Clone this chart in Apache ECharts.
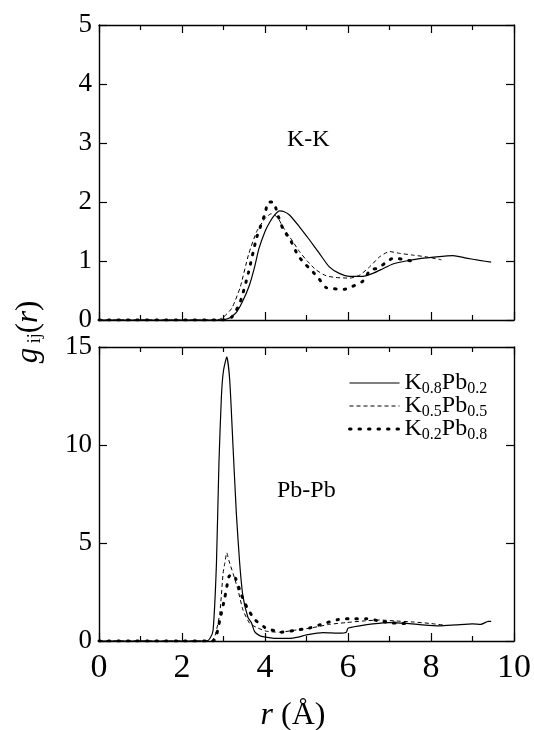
<!DOCTYPE html>
<html>
<head>
<meta charset="utf-8">
<script src="https://cdn.jsdelivr.net/npm/echarts@6/dist/echarts.min.js"></script>
<style>
  html, body { margin: 0; padding: 0; background: #fff; }
  #chart { width: 534px; height: 730px; }
  .preload { position: absolute; left: -1000px; top: 0; font-family: 'Liberation Serif'; }
</style>
</head>
<body>
<div id="chart"></div>
<span class="preload">K-Pb 0123</span><span class="preload" style="font-style: italic">g r</span>
<script>
// K-K panel, r (Å) and g(r) per composition
const kk08R = [0, 2.9, 3.1, 3.3, 3.45, 3.62, 3.75, 3.85, 4.0, 4.1, 4.22, 4.35, 4.45, 4.59, 4.83, 5.07, 5.31, 5.55, 5.79, 6.04, 6.36, 6.6, 6.84, 7.08, 7.4, 7.73, 8.13, 8.53, 8.85, 9.17, 9.45]
const kk08G = [0, 0, 0.02, 0.12, 0.3, 0.58, 0.9, 1.2, 1.5, 1.64, 1.77, 1.85, 1.84, 1.78, 1.58, 1.36, 1.13, 0.9, 0.79, 0.74, 0.74, 0.79, 0.87, 0.95, 1.0, 1.04, 1.07, 1.09, 1.05, 1.01, 0.98]
const kk05R = [0, 2.85, 3.0, 3.2, 3.4, 3.6, 3.8, 4.0, 4.15, 4.23, 4.32, 4.43, 4.67, 4.83, 5.03, 5.23, 5.47, 5.71, 6.04, 6.28, 6.52, 6.76, 7.0, 7.24, 7.56, 7.89, 8.25]
const kk05G = [0, 0, 0.05, 0.2, 0.55, 1.1, 1.5, 1.72, 1.8, 1.78, 1.72, 1.58, 1.33, 1.16, 0.99, 0.85, 0.75, 0.72, 0.71, 0.76, 0.9, 1.07, 1.16, 1.13, 1.1, 1.07, 1.02]
const kk02R = [0, 3.0, 3.2, 3.4, 3.6, 3.8, 4.0, 4.08, 4.2, 4.3, 4.43, 4.63, 4.79, 4.95, 5.11, 5.31, 5.47, 5.67, 5.91, 6.11, 6.36, 6.54, 6.74, 6.9, 7.1, 7.3, 7.55]
const kk02G = [0, 0, 0.05, 0.3, 0.8, 1.4, 1.8, 2.0, 2.0, 1.8, 1.55, 1.33, 1.1, 0.96, 0.85, 0.69, 0.55, 0.53, 0.52, 0.57, 0.66, 0.85, 0.88, 0.97, 1.05, 1.03, 1.0]

// Pb-Pb panel
const pp08R = [0, 2.6, 2.68, 2.75, 2.83, 2.89, 2.95, 3.0, 3.08, 3.15, 3.23, 3.31, 3.39, 3.47, 3.59, 3.67, 3.75, 3.85, 3.95, 4.27, 4.59, 4.8, 5.0, 5.4, 5.8, 5.96, 6.0, 6.28, 6.6, 7.0, 7.4, 7.8, 8.2, 8.6, 9.0, 9.2, 9.38, 9.45]
const pp08G = [0, 0, 0.15, 0.56, 3.96, 9.07, 12.5, 13.8, 14.5, 13.3, 9.9, 6.5, 3.97, 2.26, 1.2, 0.95, 0.48, 0.3, 0.22, 0.13, 0.13, 0.2, 0.31, 0.43, 0.4, 0.45, 0.65, 0.77, 0.87, 0.94, 0.9, 0.82, 0.77, 0.82, 0.87, 0.85, 1.0, 1.0]
const pp05R = [0, 2.7, 2.8, 2.91, 2.99, 3.03, 3.08, 3.13, 3.23, 3.35, 3.47, 3.63, 3.79, 4.03, 4.35, 4.75, 5.15, 5.56, 5.96, 6.36, 6.76, 7.16, 7.56, 7.96, 8.36]
const pp05G = [0, 0, 0.3, 1.41, 3.45, 3.96, 4.5, 4.1, 3.45, 2.6, 1.58, 0.9, 0.7, 0.5, 0.45, 0.56, 0.68, 0.85, 0.94, 1.02, 1.07, 1.02, 0.97, 0.9, 0.8]
const pp02R = [0, 2.75, 2.83, 2.91, 3.03, 3.13, 3.2, 3.29, 3.43, 3.57, 3.75, 3.99, 4.1, 4.39, 4.71, 5.07, 5.4, 5.76, 6.09, 6.44, 6.76, 7.08, 7.5]
const pp02G = [0, 0, 0.3, 1.05, 2.2, 3.28, 3.4, 3.2, 2.36, 1.7, 1.1, 0.7, 0.6, 0.45, 0.54, 0.66, 0.88, 1.09, 1.14, 1.14, 1.02, 0.92, 0.88]

const names = ['K0.8Pb0.2', 'K0.5Pb0.5', 'K0.2Pb0.8']
const subs = [['0.8', '0.2'], ['0.5', '0.5'], ['0.2', '0.8']]
const xTicks = [0, 2, 4, 6, 8, 10]

const FONT = "'Liberation Serif', serif"
const styles = [
  { type: 'solid', width: 1.2, cap: 'butt' },
  { type: [4, 3], width: 1, cap: 'butt' },
  { type: [1.5, 8], width: 3, cap: 'round' }
]

const zip = (r, g) => r.map((v, i) => [v, g[i]])

const xAxisBase = (grid, pos, labels) => ({
  gridIndex: grid, type: 'value', position: pos, min: 0, max: 10, interval: 2,
  axisLine: { show: true, onZero: false, lineStyle: { color: '#000', width: 1.4 } },
  axisTick: { show: true, inside: true, length: 8, lineStyle: { color: '#000', width: 1.2 } },
  minorTick: { show: true, splitNumber: 2, length: 5, lineStyle: { color: '#000', width: 1.2 } },
  splitLine: { show: false },
  axisLabel: {
    show: labels, color: '#000', fontFamily: FONT, fontSize: 34, margin: 10,
    formatter: v => xTicks.includes(v) ? String(v) : ''
  }
})

const yAxisBase = (grid, pos, max, step, labels) => ({
  gridIndex: grid, type: 'value', position: pos, min: 0, max: max, interval: step,
  axisLine: { show: true, onZero: false, lineStyle: { color: '#000', width: 1.4 } },
  axisTick: { show: true, inside: true, length: 8, lineStyle: { color: '#000', width: 1.2 } },
  splitLine: { show: false },
  axisLabel: { show: labels, color: '#000', fontFamily: FONT, fontSize: 27, margin: 7 }
})

const mk = (name, idx, axis, r, g) => ({
  name, type: 'line', xAxisIndex: axis, yAxisIndex: axis,
  data: zip(r, g), symbol: 'none', smooth: 0.2,
  lineStyle: { color: '#000', type: styles[idx].type, width: styles[idx].width, cap: styles[idx].cap },
  itemStyle: { color: '#000' },
  silent: true
})

const draw = () => {
  const chart = echarts.init(document.getElementById('chart'))
  chart.setOption({
    animation: false,
    backgroundColor: '#fff',
    grid: [
      { left: 99, top: 25, width: 415, height: 295 },
      { left: 99, top: 347, width: 415, height: 294 }
    ],
    xAxis: [
      xAxisBase(0, 'bottom', false),
      xAxisBase(0, 'top', false),
      xAxisBase(1, 'bottom', true),
      xAxisBase(1, 'top', false)
    ],
    yAxis: [
      yAxisBase(0, 'left', 5, 1, true),
      yAxisBase(0, 'right', 5, 1, false),
      yAxisBase(1, 'left', 15, 5, true),
      yAxisBase(1, 'right', 15, 5, false)
    ],
    legend: {
      data: names.map((n, i) => ({
        name: n,
        lineStyle: { color: '#000', type: styles[i].type, width: styles[i].width, cap: styles[i].cap }
      })),
      orient: 'vertical',
      left: 343, top: 366,
      itemWidth: 50, itemHeight: 8, itemGap: -3,
      selectedMode: false,
      itemStyle: { color: 'transparent', borderWidth: 0, opacity: 0 },
      textStyle: {
        color: '#000', fontFamily: FONT, fontSize: 24,
        rich: { s: { fontFamily: FONT, fontSize: 16, color: '#000', padding: [12, 0, 0, 0] } }
      },
      formatter: name => {
        const s = subs[names.indexOf(name)]
        return `K{s|${s[0]}}Pb{s|${s[1]}}`
      }
    },
    graphic: [
      { type: 'text', left: 287, top: 128, style: { text: 'K-K', font: `24px ${FONT}`, fill: '#000' } },
      { type: 'text', left: 277, top: 479, style: { text: 'Pb-Pb', font: `24px ${FONT}`, fill: '#000' } },
      {
        type: 'text', x: 29, y: 332, rotation: Math.PI / 2,
        style: {
          text: '{g|g}{s| ij}{n|(}{i|r}{n|)}', align: 'center', verticalAlign: 'middle', fill: '#000',
          rich: {
            g: { font: `italic 31px ${FONT}`, fill: '#000' },
            s: { font: `18px ${FONT}`, fill: '#000', padding: [12, 0, 0, 0] },
            n: { font: `31px ${FONT}`, fill: '#000' },
            i: { font: `italic 31px ${FONT}`, fill: '#000' }
          }
        }
      },
      {
        type: 'text', x: 293, y: 716,
        style: {
          text: '{i|r} (Å)', align: 'center', verticalAlign: 'middle', fill: '#000',
          font: `32px ${FONT}`,
          rich: {
            i: { font: `italic 32px ${FONT}`, fill: '#000' }
          }
        }
      }
    ],
    series: [
      mk(names[0], 0, 0, kk08R, kk08G),
      mk(names[1], 1, 0, kk05R, kk05G),
      mk(names[2], 2, 0, kk02R, kk02G),
      mk(names[0], 0, 2, pp08R, pp08G),
      mk(names[1], 1, 2, pp05R, pp05G),
      mk(names[2], 2, 2, pp02R, pp02G)
    ]
  })
}

let done = false
const go = () => { if (!done) { done = true; draw() } }
Promise.all([
  document.fonts.load("24px 'Liberation Serif'"),
  document.fonts.load("italic 24px 'Liberation Serif'")
]).then(go, go)
setTimeout(go, 800)
</script>
</body>
</html>
